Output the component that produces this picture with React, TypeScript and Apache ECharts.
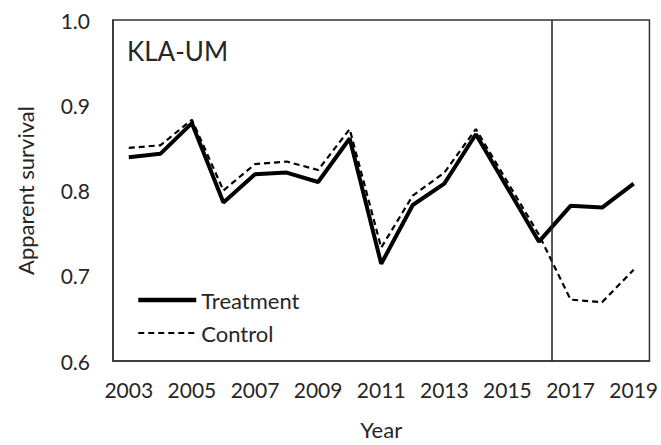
import React, { useEffect, useRef } from "react";
import * as echarts from "echarts";

const years = [2003, 2004, 2005, 2006, 2007, 2008, 2009, 2010, 2011, 2012, 2013, 2014, 2015, 2016, 2017, 2018, 2019];
const treatment = [0.839, 0.843, 0.879, 0.786, 0.819, 0.821, 0.81, 0.861, 0.714, 0.783, 0.808, 0.866, 0.803, 0.74, 0.782, 0.78, 0.808];
const control = [0.85, 0.853, 0.883, 0.8, 0.831, 0.834, 0.824, 0.872, 0.733, 0.794, 0.821, 0.872, 0.81, 0.748, 0.672, 0.669, 0.707];
const yTicks = [0.6, 0.7, 0.8, 0.9, 1.0];
const breakYear = 2016.4;
const panelLabel = "KLA-UM";

const FONT = "Lato, 'Open Sans', sans-serif";
const TXT = "#262626";
const FS = 21;

export default function App() {
  const ref = useRef<HTMLDivElement>(null);
  useEffect(() => {
    if (!ref.current) return;
    const chart = echarts.init(ref.current, undefined, { renderer: "svg" });
    chart.setOption({
      animation: false,
      backgroundColor: "#fff",
      textStyle: { fontFamily: FONT, color: TXT },
      grid: {
        left: 113,
        right: 11,
        top: 20,
        bottom: 82,
        show: true,
        borderColor: "#333",
        borderWidth: 1.5,
      },
      legend: {
        orient: "vertical",
        left: 136,
        top: 289,
        padding: 0,
        itemWidth: 58,
        itemHeight: 14,
        itemGap: 11,
        itemStyle: { opacity: 0 },
        textStyle: { fontSize: 22, color: TXT, fontFamily: FONT },
        data: [
          { name: "Treatment", lineStyle: { width: 4.5, color: "#000", type: "solid" } },
          { name: "Control", lineStyle: { width: 2.2, color: "#000", type: [6, 4] } },
        ],
      },
      graphic: [
        {
          type: "text",
          left: 127,
          top: 38,
          style: { text: panelLabel, fontSize: 26, fill: TXT, fontFamily: FONT },
        },
      ],
      xAxis: [
        {
          type: "category",
          data: years.map(String),
          boundaryGap: true,
          name: "Year",
          nameLocation: "middle",
          nameGap: 57,
          nameTextStyle: { fontSize: 22, color: TXT, fontFamily: FONT },
          axisLine: { lineStyle: { color: "#333", width: 1.5 } },
          axisTick: { alignWithLabel: true, interval: 0, length: 5, lineStyle: { color: "#333", width: 1.5 } },
          axisLabel: { interval: 1, fontSize: FS, color: TXT, margin: 18, fontFamily: FONT },
          splitLine: { show: false },
        },
        {
          type: "value",
          show: false,
          min: 2002.5,
          max: 2019.5,
          splitLine: { show: false },
        },
      ],
      yAxis: {
        type: "value",
        min: 0.6,
        max: 1.0,
        interval: 0.1,
        name: "Apparent survival",
        nameLocation: "middle",
        nameGap: 77,
        nameTextStyle: { fontSize: 22, color: TXT, fontFamily: FONT },
        axisLine: { show: true, lineStyle: { color: "#333", width: 1.5 } },
        axisTick: { show: false },
        axisLabel: {
          fontSize: FS,
          color: TXT,
          margin: 23,
          fontFamily: FONT,
          formatter: (v: number) => (yTicks.some((t) => Math.abs(t - v) < 1e-9) ? v.toFixed(1) : ""),
        },
        splitLine: { show: false },
      },
      series: [
        {
          name: "Treatment",
          type: "line",
          xAxisIndex: 1,
          symbol: "none",
          data: years.map((y, i) => [y, treatment[i]]),
          lineStyle: { color: "#000", width: 4 },
          itemStyle: { color: "#000" },
          z: 3,
          markLine: {
            silent: true,
            symbol: "none",
            label: { show: false },
            lineStyle: { color: "#222", width: 1.5, type: "solid" },
            data: [{ xAxis: breakYear }],
          },
        },
        {
          name: "Control",
          type: "line",
          xAxisIndex: 1,
          symbol: "none",
          data: years.map((y, i) => [y, control[i]]),
          lineStyle: { color: "#000", width: 2.2, type: [6, 4] },
          itemStyle: { color: "#000" },
          z: 4,
        },
      ],
    });
    return () => chart.dispose();
  }, []);
  return <div ref={ref} style={{ width: 661, height: 445, position: "absolute", left: 0, top: 0 }} />;
}
